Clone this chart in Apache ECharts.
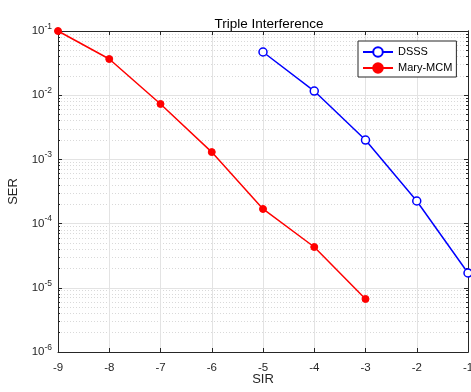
<!DOCTYPE html>
<html><head><meta charset="utf-8">
<script src="https://cdn.jsdelivr.net/npm/echarts@6/dist/echarts.min.js"></script>
<style>html,body{margin:0;padding:0;background:#fff}#c{width:471px;height:392px}</style>
</head><body><div id="c"></div>
<script>
const sirDSSS = [-5, -4, -3, -2, -1];
const serDSSS = [0.0471, 0.0116, 0.0020, 2.25e-4, 1.70e-5];
const sirMCM = [-9, -8, -7, -6, -5, -4, -3];
const serMCM = [0.1, 0.0366, 0.0073, 0.0013, 1.69e-4, 4.32e-5, 6.7e-6];
const xTicks = [-9, -8, -7, -6, -5, -4, -3, -2, -1];
const yDecades = [-6, -5, -4, -3, -2, -1];

const minorVals = [];
for (let d = -6; d < -1; d++) for (let k = 2; k <= 9; k++) minorVals.push(k * Math.pow(10, d));
const majorVals = yDecades.map(e => Math.pow(10, e));

const font = 'Liberation Sans, Arial, sans-serif';
const axisCol = '#262626';
const chart = echarts.init(document.getElementById('c'));
const yLabel = v => { const e = Math.round(Math.log10(v)); return '{b|10}{s|' + e + '}'; };
const baseY = {
  type: 'log', logBase: 10, min: 1e-6, max: 0.1,
  axisLine: { show: true, lineStyle: { color: axisCol, width: 1 } },
};
chart.setOption({
  animation: false,
  title: { text: 'Triple Interference', left: 264, top: 12, textAlign: 'center',
    textStyle: { fontFamily: font, fontSize: 13.5, fontWeight: 'normal', color: '#000' } },
  grid: { left: 58, right: 3, top: 31, bottom: 40, containLabel: false, outerBoundsMode: 'none' },
  legend: {
    orient: 'vertical', left: 358, top: 41, itemWidth: 30, itemHeight: 12, itemGap: 4,
    padding: [5, 4, 3, 4], borderColor: axisCol, borderWidth: 1, backgroundColor: '#fff',
    textStyle: { fontFamily: font, fontSize: 11, color: '#000', lineHeight: 12 },
    data: ['DSSS', 'Mary-MCM']
  },
  xAxis: [{
    type: 'value', min: -9, max: -1, interval: 1, position: 'bottom',
    name: 'SIR', nameLocation: 'middle', nameGap: 21, nameMoveOverlap: false,
    nameTextStyle: { fontFamily: font, fontSize: 13, color: '#262626' },
    axisLine: { show: true, onZero: false, lineStyle: { color: axisCol } },
    axisTick: { show: true, inside: true, length: 4, lineStyle: { color: axisCol } },
    axisLabel: { fontFamily: font, fontSize: 11.5, color: '#262626', margin: 10, customValues: xTicks },
    splitLine: { show: true, lineStyle: { color: '#e3e3e3', width: 1 } }
  }, {
    type: 'value', min: -9, max: -1, interval: 1, position: 'top',
    axisLine: { show: true, onZero: false, lineStyle: { color: axisCol } },
    axisTick: { show: true, inside: true, length: 4, lineStyle: { color: axisCol } },
    axisLabel: { show: false }, splitLine: { show: false }
  }],
  yAxis: [Object.assign({}, baseY, {
    position: 'left', name: 'SER', nameLocation: 'middle', nameGap: 38, nameMoveOverlap: false,
    nameTextStyle: { fontFamily: font, fontSize: 13, color: '#262626' },
    axisLabel: { fontFamily: font, color: '#262626', margin: 6, formatter: yLabel,
      customValues: majorVals,
      rich: { b: { fontSize: 11.5, fontFamily: font, color: '#262626' },
              s: { fontSize: 8.5, fontFamily: font, color: '#262626', padding: [0, 0, 9, 0] } } },
    axisTick: { show: true, inside: true, length: 4, lineStyle: { color: axisCol }, customValues: majorVals },
    splitLine: { show: true, lineStyle: { color: '#e3e3e3', width: 1 } }
  }), Object.assign({}, baseY, {
    position: 'left',
    axisLabel: { show: false },
    axisTick: { show: true, inside: true, length: 2, lineStyle: { color: axisCol }, customValues: minorVals },
    splitLine: { show: true, lineStyle: { color: '#d9d9d9', width: 1, type: [1, 2] } }
  }), Object.assign({}, baseY, {
    position: 'right',
    axisLabel: { show: false },
    axisTick: { show: true, inside: true, length: 4, lineStyle: { color: axisCol }, customValues: majorVals },
    splitLine: { show: false }
  }), Object.assign({}, baseY, {
    position: 'right',
    axisLabel: { show: false },
    axisTick: { show: true, inside: true, length: 2, lineStyle: { color: axisCol }, customValues: minorVals },
    splitLine: { show: false }
  })],
  series: [{
    name: 'DSSS', type: 'line', xAxisIndex: 0, yAxisIndex: 0,
    data: sirDSSS.map((x, i) => [x, serDSSS[i]]),
    color: '#0000ff', lineStyle: { color: '#0000ff', width: 1.5 },
    symbol: 'circle', symbolSize: 8, showSymbol: true,
    itemStyle: { color: '#fff', borderColor: '#0000ff', borderWidth: 1.5 }, z: 5
  }, {
    name: 'Mary-MCM', type: 'line', xAxisIndex: 0, yAxisIndex: 0,
    data: sirMCM.map((x, i) => [x, serMCM[i]]),
    color: '#ff0000', lineStyle: { color: '#ff0000', width: 1.5 },
    symbol: 'circle', symbolSize: 7, showSymbol: true,
    itemStyle: { color: '#ff0000', borderColor: '#ff0000', borderWidth: 1 }, z: 5
  }]
});
</script></body></html>
